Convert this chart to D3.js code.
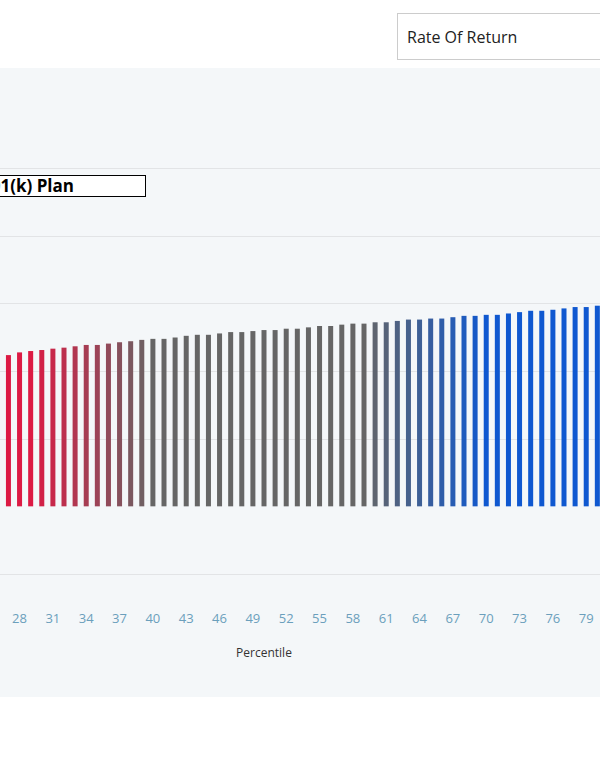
<!DOCTYPE html>
<html>
<head>
<meta charset="utf-8">
<script src="https://cdn.jsdelivr.net/npm/d3@7"></script>
<style>
  body { margin: 0; background: #fff; overflow: hidden; }
  svg { display: block; font-family: "Open Sans", "Noto Sans", sans-serif; }
</style>
</head>
<body>
<div id="chart"></div>
<script>
// Percentiles shown in the visible part of the chart
const percentiles = d3.range(26, 81);
// Rate of return (%) per percentile
const returns = [
  4.46, 4.47, 4.55, 4.59, 4.62, 4.66, 4.69, 4.73, 4.77, 4.77,
  4.81, 4.85, 4.88, 4.92, 4.95, 4.95, 4.99, 5.04, 5.07, 5.07,
  5.11, 5.15, 5.15, 5.18, 5.21, 5.21, 5.25, 5.25, 5.29, 5.33,
  5.33, 5.37, 5.40, 5.40, 5.44, 5.44, 5.48, 5.52, 5.52, 5.55,
  5.55, 5.59, 5.63, 5.63, 5.66, 5.66, 5.70, 5.74, 5.78, 5.78,
  5.81, 5.85, 5.89, 5.89, 5.93
];
const tickLabels = d3.range(28, 80, 3);
const gridValues = [-2, 0, 2, 4, 6, 8, 10];

const width = 600, height = 759;

const svg = d3.select('#chart')
  .append('svg')
  .attr('width', width)
  .attr('height', height);

// Dropdown box at the top
svg.append('rect')
  .attr('x', 397.5).attr('y', 13.5)
  .attr('width', 220).attr('height', 46)
  .attr('fill', '#fff')
  .attr('stroke', '#cccccc');
svg.append('text')
  .attr('x', 407).attr('y', 43)
  .attr('font-size', 16)
  .attr('fill', '#222')
  .text('Rate Of Return');

// Chart panel
svg.append('rect')
  .attr('x', 0).attr('y', 68)
  .attr('width', width).attr('height', 629)
  .attr('fill', '#f4f7f9');

// Full chart spans percentiles 1..99; only part fits the window
const x = d3.scaleBand()
  .domain(d3.range(1, 100))
  .range([-286, 814])
  .paddingInner(0.55)
  .paddingOuter(0.275);

const y = d3.scaleLinear()
  .domain([-2, 10])
  .range([574, 168]);

// Gridlines
svg.append('g')
  .selectAll('line')
  .data(gridValues)
  .enter()
  .append('line')
  .attr('x1', 0).attr('x2', width)
  .attr('y1', (d) => Math.round(y(d)) + 0.5)
  .attr('y2', (d) => Math.round(y(d)) + 0.5)
  .attr('stroke', (d) => (d === 0 ? 'none' : '#e2e4e6'))
  .attr('stroke-width', 1);

// Title box (left part is outside the window, as in the original)
svg.append('rect')
  .attr('x', -100.5).attr('y', 175.5)
  .attr('width', 246).attr('height', 21)
  .attr('fill', '#fff')
  .attr('stroke', '#000');
svg.append('text')
  .attr('x', -19).attr('y', 192)
  .attr('font-size', 17)
  .attr('font-weight', 'bold')
  .attr('fill', '#000')
  .text('401(k) Plan');

// Bar colour: red -> grey -> blue along the percentiles
const color = d3.scaleLinear()
  .domain([29, 40, 59, 70])
  .range(['#dc1a44', '#666666', '#666666', '#0f58d0'])
  .clamp(true);

svg.append('g')
  .selectAll('rect')
  .data(percentiles)
  .enter()
  .append('rect')
  .attr('x', (d) => x(d))
  .attr('width', x.bandwidth())
  .attr('y', (d, i) => y(returns[i]))
  .attr('height', (d, i) => y(0) - y(returns[i]))
  .attr('fill', (d) => color(d));

// X tick labels
svg.append('g')
  .selectAll('text')
  .data(tickLabels)
  .enter()
  .append('text')
  .attr('x', (d) => x(d) + x.bandwidth() / 2)
  .attr('y', 623)
  .attr('text-anchor', 'middle')
  .attr('font-size', 13)
  .attr('fill', '#6b9fbc')
  .text((d) => d);

svg.append('text')
  .attr('x', 264).attr('y', 657)
  .attr('text-anchor', 'middle')
  .attr('font-size', 12)
  .attr('fill', '#333')
  .text('Percentile');
</script>
</body>
</html>
